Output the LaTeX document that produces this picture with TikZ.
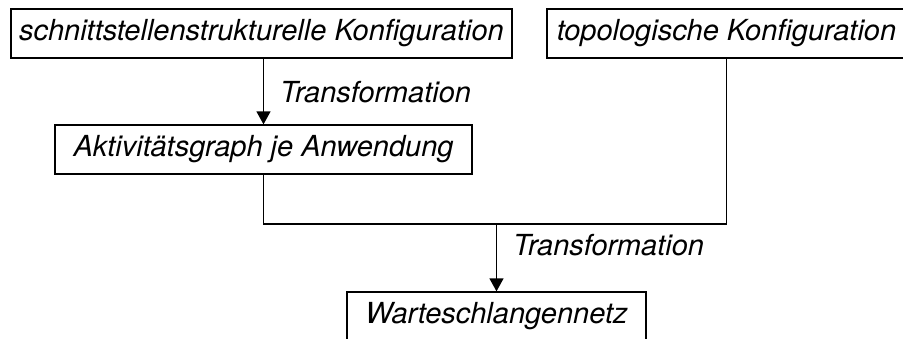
\documentclass[tikz,border=0pt]{standalone}
\usepackage{fontspec}
\setmainfont{TeX Gyre Heros}
\usetikzlibrary{arrows.meta}
\begin{document}
\begin{tikzpicture}[x=1pt,y=-1pt,
  box/.style={draw, line width=1.3pt, inner sep=0pt, minimum height=49pt,
    font=\fontsize{29}{32}\selectfont\itshape},
  lbl/.style={inner sep=0pt, anchor=west, font=\fontsize{29}{32}\selectfont\itshape},
  conn/.style={line width=1.3pt},
  arr/.style={conn, -{Triangle[width=14pt,length=13pt]}}]
\useasboundingbox (0,0) rectangle (903,338);
\clip (0,0) rectangle (903,338);
% configurations
\node[box, minimum width=501pt] (schnitt) at (261.5,33.5) {schnittstellenstrukturelle Konfiguration};
\node[box, minimum width=359pt] (topo) at (726.5,33.5) {topologische Konfiguration};
% intermediate graph and result
\node[box, minimum width=417pt] (akt) at (263.5,149.5) {Aktivitätsgraph je Anwendung};
\node[box, minimum width=299pt] (netz) at (496.5,316.5) {Warteschlangennetz};
% transformations
\draw[arr] (akt.north |- schnitt.south) -- (akt.north);
\node[lbl] (t1) at (280,92) {Transformation};
\coordinate (join) at (netz.north |- 0,224);
\draw[conn] (akt.south) |- (join);
\draw[conn] (topo.south) |- (join);
\draw[arr] (join) -- (netz.north);
\node[lbl] (t2) at (513,245) {Transformation};
\end{tikzpicture}
\end{document}
